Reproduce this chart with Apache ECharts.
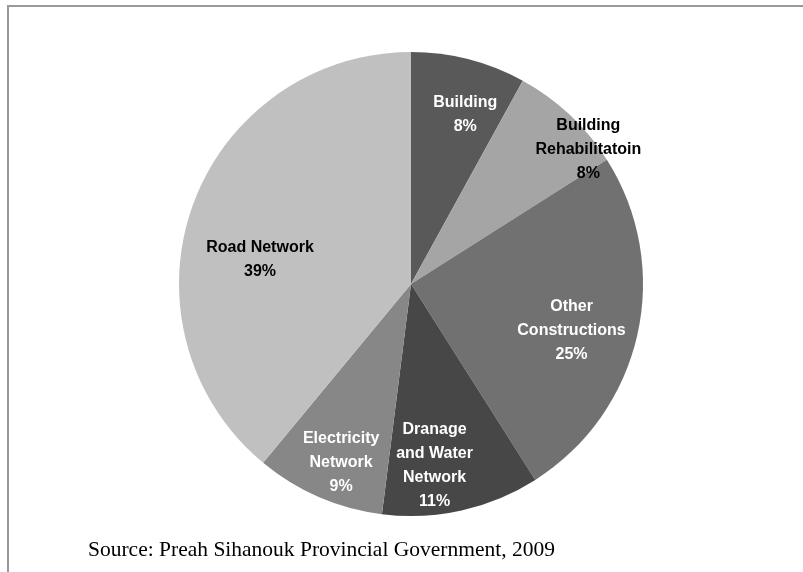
<!DOCTYPE html>
<html>
<head>
<meta charset="utf-8">
<script src="https://cdn.jsdelivr.net/npm/echarts@6/dist/echarts.min.js"></script>
<style>
  html, body { margin: 0; padding: 0; background: #fff; }
  #chart { width: 803px; height: 572px; }
</style>
</head>
<body>
<div id="chart"></div>
<script>
// Infrastructure spending shares, clockwise from 12 o'clock
const categories = [
  'Building',
  'Building\nRehabilitatoin',
  'Other\nConstructions',
  'Dranage\nand Water\nNetwork',
  'Electricity\nNetwork',
  'Road Network'
];
const shares = [8, 8, 25, 11, 9, 39];
const sourceNote = 'Source: Preah Sihanouk Provincial Government, 2009';

// Slice fills and label ink
const sliceColors = ['#595959', '#a5a5a5', '#717171', '#474747', '#878787', '#c0c0c0'];
const labelInk = ['#ffffff', '#000000', '#ffffff', '#ffffff', '#ffffff', '#000000'];
const labelNudge = [[8, 11], [50, 1], [-21, 6], [-17, 0], [4, 8], [24, 39]];

const center = [411, 284];
const outerR = 232;

const chart = echarts.init(document.getElementById('chart'), null, { renderer: 'canvas' });

const fillData = categories.map((name, i) => ({
  name, value: shares[i], itemStyle: { color: sliceColors[i] }
}));

const labelData = categories.map((name, i) => ({
  name, value: shares[i],
  label: { color: labelInk[i], offset: labelNudge[i] }
}));

chart.setOption({
  animation: false,
  backgroundColor: '#ffffff',
  graphic: [
    {
      type: 'polyline',
      shape: { points: [[8, 572], [8, 6], [803, 6]] },
      style: { stroke: '#999999', lineWidth: 2, fill: null },
      silent: true
    },
    {
      type: 'text',
      left: 88,
      top: 539,
      style: {
        text: sourceNote,
        font: '21.5px "Liberation Serif", "Times New Roman", serif',
        fill: '#000000'
      },
      silent: true
    }
  ],
  series: [
    {
      type: 'pie',
      center: center,
      radius: [0, outerR],
      startAngle: 90,
      clockwise: true,
      silent: true,
      label: { show: false },
      labelLine: { show: false },
      itemStyle: { borderWidth: 0 },
      data: fillData
    },
    {
      // transparent ring that carries the slice labels at ~0.79 of the radius
      type: 'pie',
      center: center,
      radius: [134, outerR],
      startAngle: 90,
      clockwise: true,
      silent: true,
      percentPrecision: 0,
      itemStyle: { color: 'rgba(0,0,0,0)', borderWidth: 0 },
      label: {
        show: true,
        position: 'inside',
        formatter: '{b}\n{d}%',
        fontFamily: '"Liberation Sans", Arial, sans-serif',
        fontWeight: 'bold',
        fontSize: 16,
        lineHeight: 24,
        align: 'center',
        overflow: 'none'
      },
      labelLine: { show: false },
      data: labelData
    }
  ]
});
</script>
</body>
</html>
